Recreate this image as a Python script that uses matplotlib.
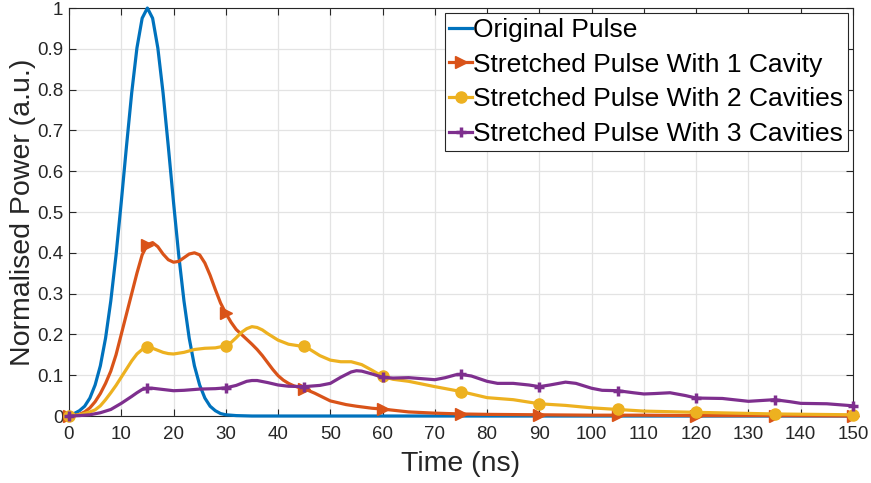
import matplotlib
matplotlib.use('Agg')
import matplotlib.pyplot as plt

plt.rcParams['font.family'] = ['Liberation Sans', 'DejaVu Sans']

# Original pulse
t_orig = [0, 1, 2, 3, 4, 5, 6, 7, 8, 9, 10, 11, 12, 13, 14, 15, 16, 17, 18, 19, 20,
          21, 22, 23, 24, 25, 26, 27, 28, 29, 30, 32, 35, 40, 60, 80, 100, 120, 150]
p_orig = [0.002, 0.006, 0.013, 0.024, 0.044, 0.076, 0.123, 0.191, 0.282, 0.394, 0.524,
          0.661, 0.792, 0.902, 0.975, 1.0, 0.975, 0.902, 0.792, 0.661, 0.524,
          0.394, 0.282, 0.191, 0.123, 0.076, 0.044, 0.024, 0.013, 0.006, 0.003, 0.001,
          0.0, 0.0, 0.0, 0.0, 0.0, 0.0, 0.0]

# Stretched pulse, 1 cavity
t_1cav = [0, 1, 2, 3, 4, 5, 6, 7, 8, 9, 10, 11, 12, 13, 14, 15, 16, 17, 18, 19, 20,
          21, 22, 23, 24, 25, 26, 27, 28, 29, 30, 31, 32, 33, 34, 35, 36, 37, 38, 39, 40,
          41, 42, 43, 44, 45, 47, 50, 53, 55, 58, 60, 65, 70, 75, 80, 90, 100, 105,
          110, 120, 135, 150]
p_1cav = [0.0, 0.001, 0.004, 0.01, 0.02, 0.035, 0.055, 0.08, 0.11, 0.15, 0.2,
          0.25, 0.3, 0.35, 0.395, 0.42, 0.425, 0.415, 0.397, 0.383, 0.377,
          0.379, 0.388, 0.397, 0.4, 0.395, 0.375, 0.345, 0.31, 0.277, 0.252, 0.23, 0.212,
          0.2, 0.188, 0.176, 0.163, 0.148, 0.131, 0.114, 0.099,
          0.088, 0.08, 0.074, 0.07, 0.067, 0.056, 0.037, 0.028, 0.024, 0.019, 0.017,
          0.01, 0.007, 0.005, 0.004, 0.003, 0.002, 0.002, 0.002, 0.001, 0.001, 0.0]

# Stretched pulse, 2 cavities
t_2cav = [0, 2, 4, 5, 6, 7, 8, 9, 10, 11, 12, 13, 14, 15, 16, 17, 18, 19, 20, 22, 24,
          26, 28, 30, 31, 32, 33, 34, 35, 36, 37, 38, 40, 42, 44, 45, 48, 50, 52, 54,
          56, 58, 60, 62, 65, 70, 75, 80, 85, 90, 95, 100, 105, 110, 120, 135, 150]
p_2cav = [0.0, 0.003, 0.01, 0.015, 0.025, 0.04, 0.057, 0.075, 0.095, 0.115, 0.135,
          0.152, 0.163, 0.168, 0.166, 0.161, 0.156, 0.153, 0.152, 0.156, 0.163,
          0.166, 0.167, 0.172, 0.18, 0.192, 0.205, 0.214, 0.219, 0.217, 0.211, 0.202,
          0.186, 0.176, 0.172, 0.172, 0.148, 0.137, 0.133, 0.133,
          0.126, 0.112, 0.097, 0.09, 0.085, 0.072, 0.06, 0.045, 0.04, 0.03, 0.026,
          0.02, 0.016, 0.012, 0.009, 0.005, 0.003]

# Stretched pulse, 3 cavities
t_3cav = [0, 2, 4, 6, 8, 10, 12, 13, 14, 15, 16, 18, 20, 22, 25, 28, 30, 32, 34, 35,
          36, 38, 40, 42, 45, 48, 50, 52, 54, 55, 56, 58, 60, 62, 65, 68, 70, 72, 74,
          75, 77, 80, 82, 85, 88, 90, 92, 95, 97, 100, 102, 105, 108, 110, 112, 115,
          118, 120, 125, 130, 135, 138, 140, 145, 150]
p_3cav = [0.0, 0.001, 0.003, 0.008, 0.016, 0.031, 0.048, 0.057, 0.065, 0.068, 0.068,
          0.065, 0.062, 0.063, 0.066, 0.067, 0.069, 0.075, 0.085, 0.087,
          0.087, 0.082, 0.076, 0.073, 0.072, 0.075, 0.08, 0.095, 0.108, 0.111,
          0.11, 0.103, 0.095, 0.093, 0.094, 0.091, 0.089, 0.094, 0.101,
          0.102, 0.098, 0.085, 0.08, 0.08, 0.076, 0.072, 0.076, 0.083, 0.08, 0.068,
          0.063, 0.062, 0.057, 0.054, 0.055, 0.057, 0.05, 0.044, 0.043, 0.036,
          0.04, 0.035, 0.031, 0.03, 0.025]

labels = ["Original Pulse", "Stretched Pulse With 1 Cavity",
          "Stretched Pulse With 2 Cavities", "Stretched Pulse With 3 Cavities"]
x_ticks = list(range(0, 151, 10))
y_ticks = [0, 0.1, 0.2, 0.3, 0.4, 0.5, 0.6, 0.7, 0.8, 0.9, 1]
y_ticklabels = ["0", "0.1", "0.2", "0.3", "0.4", "0.5", "0.6", "0.7", "0.8", "0.9", "1"]


def marks(t):
    return [i for i, v in enumerate(t) if v % 15 == 0]


fig = plt.figure(figsize=(8.71, 4.83), dpi=100)
ax = fig.add_axes([0.0792, 0.1387, 0.9001, 0.8447])

lw = 2.3
ax.plot(t_orig, p_orig, color='#0072BD', lw=lw, label=labels[0], clip_on=False, zorder=3)
ax.plot(t_1cav, p_1cav, color='#D95319', lw=lw, marker='>', ms=8,
        markevery=marks(t_1cav), label=labels[1], clip_on=False, zorder=4)
ax.plot(t_2cav, p_2cav, color='#EDB120', lw=lw, marker='o', ms=8,
        markevery=marks(t_2cav), label=labels[2], clip_on=False, zorder=5)
ax.plot(t_3cav, p_3cav, color='#7E2F8E', lw=lw, marker='+', ms=7, mew=2.5,
        markevery=marks(t_3cav), label=labels[3], clip_on=False, zorder=6)

ax.set_xlim(0, 150)
ax.set_ylim(0, 1)
ax.set_xticks(x_ticks)
ax.set_yticks(y_ticks)
ax.set_yticklabels(y_ticklabels)
ax.grid(True, color='#e3e3e3', lw=0.9)
ax.set_axisbelow(True)
ax.tick_params(direction='in', top=True, right=True, length=5, width=0.8,
               colors='#262626', labelsize=13.5, labelcolor='#262626')
ax.tick_params(axis='x', pad=7)
ax.tick_params(axis='y', pad=4)
for s in ax.spines.values():
    s.set_color('#262626')
    s.set_linewidth(0.8)

ax.set_xlabel("Time (ns)", fontsize=20.5, color='#262626', labelpad=6)
ax.set_ylabel("Normalised Power (a.u.)", fontsize=20.5, color='#262626', labelpad=0.5)

leg = ax.legend(loc='upper right', fontsize=19, frameon=True, fancybox=False,
                edgecolor='#262626', framealpha=1, handlelength=0.85, handletextpad=0.05,
                borderpad=0.17, labelspacing=0.41, borderaxespad=0.2, numpoints=1)
leg.get_frame().set_linewidth(0.8)

fig.savefig("out.png", dpi=100)
